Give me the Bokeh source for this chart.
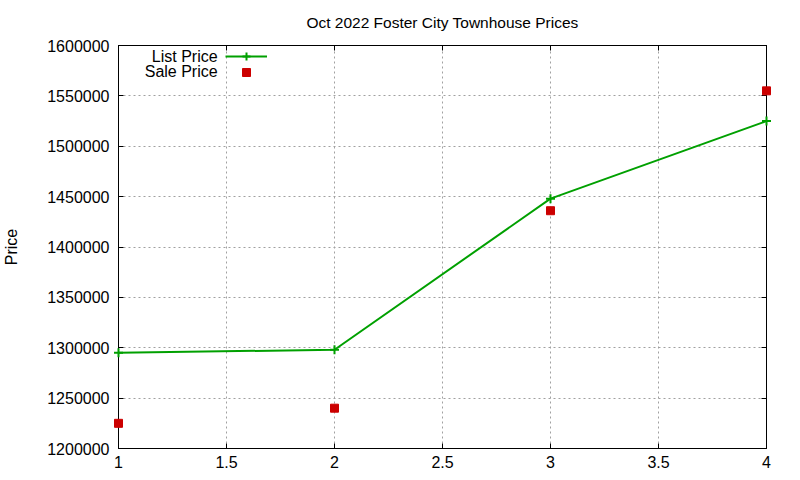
from bokeh.plotting import figure
from bokeh.models import (Range1d, FixedTicker, LinearAxis, NumeralTickFormatter,
                          CustomJSTickFormatter, Legend, LegendItem, Label, Grid)
from bokeh.embed import file_html
from bokeh.resources import INLINE

# ---- data ----
x_values = [1, 2, 3, 4]
list_price = [1295000, 1298000, 1448000, 1525000]
sale_price = [1225000, 1240000, 1436000, 1555000]
x_ticks = [1, 1.5, 2, 2.5, 3, 3.5, 4]
y_ticks = [1200000, 1250000, 1300000, 1350000, 1400000, 1450000, 1500000, 1550000, 1600000]
series_names = ["List Price", "Sale Price"]
title_text = "Oct 2022 Foster City Townhouse Prices"
y_label = "Price"

FONT = "Liberation Sans"
FS = "16px"
FS_TITLE = "15.5px"
GREEN = "#00a000"
RED = "#cc0000"
GRID = "#a0a0a0"

p = figure(width=784, height=476, output_backend="svg", toolbar_location=None,
           x_range=Range1d(1, 4), y_range=Range1d(1200000, 1600000),
           x_axis_type=None, y_axis_type=None,
           min_border_left=118, min_border_right=18, min_border_top=45, min_border_bottom=28,
           title=title_text)
p.outline_line_color = "black"
p.outline_line_width = 1
p.outline_line_alpha = 1
p.background_fill_color = "white"
p.border_fill_color = "white"

p.title.text_font = FONT
p.title.text_font_size = FS_TITLE
p.title.text_font_style = "normal"
p.title.text_color = "black"
p.title.align = "center"
p.title.vertical_align = "top"
p.title.standoff = 25

xt = FixedTicker(ticks=x_ticks)
yt = FixedTicker(ticks=y_ticks)

def style_axis(ax, labels=True):
    ax.major_tick_in = 5
    ax.major_tick_out = 0
    ax.minor_tick_line_color = None
    ax.axis_line_color = "black"
    ax.major_tick_line_color = "black"
    ax.major_label_text_font = FONT
    ax.major_label_text_font_size = FS
    ax.major_label_text_color = "black"
    if not labels:
        ax.formatter = CustomJSTickFormatter(code="return ''")
        ax.major_label_standoff = 0

bottom = LinearAxis(ticker=xt, formatter=NumeralTickFormatter(format="0.[0]"))
style_axis(bottom)
bottom.major_label_standoff = 7
p.add_layout(bottom, "below")

left = LinearAxis(ticker=yt, formatter=NumeralTickFormatter(format="0"), axis_label=y_label)
style_axis(left)
left.major_label_standoff = 9
left.axis_label_standoff = 24
left.axis_label_text_font = FONT
left.axis_label_text_font_size = FS
left.axis_label_text_font_style = "normal"
left.axis_label_text_color = "black"
p.add_layout(left, "left")

top = LinearAxis(ticker=xt)
style_axis(top, labels=False)
p.add_layout(top, "above")

right = LinearAxis(ticker=yt)
style_axis(right, labels=False)
p.add_layout(right, "right")

for dim, tk in ((0, xt), (1, yt)):
    p.add_layout(Grid(dimension=dim, ticker=tk, grid_line_color=GRID,
                      grid_line_dash="2 3", grid_line_width=1))

r_list = p.line(x_values, list_price, line_color=GREEN, line_width=2, level="overlay")
r_list_pts = p.scatter(x_values, list_price, marker="cross", size=9,
                       line_color=GREEN, line_width=2, level="overlay")
r_sale = p.scatter(x_values, sale_price, marker="square", size=8,
                   fill_color=RED, line_color=RED, level="overlay")

legend_common = dict(padding=0, margin=0, spacing=0, glyph_width=42, glyph_height=20,
                     label_height=15, label_width=0, label_standoff=0,
                     label_text_font_size="8px", border_line_color=None,
                     background_fill_alpha=0)
p.add_layout(Legend(items=[LegendItem(label=" ", renderers=[r_list, r_list_pts])],
                    location=(107, 382), **legend_common))
p.add_layout(Legend(items=[LegendItem(label=" ", renderers=[r_sale])],
                    location=(107, 366), **legend_common))

for name, yv in zip(series_names, [1589400, 1574600]):
    p.add_layout(Label(x=1.459, y=yv, text=name, text_align="right",
                       text_baseline="middle", text_font=FONT,
                       text_font_size=FS, text_color="black"))

open("out.html", "w").write(file_html(p, INLINE))
